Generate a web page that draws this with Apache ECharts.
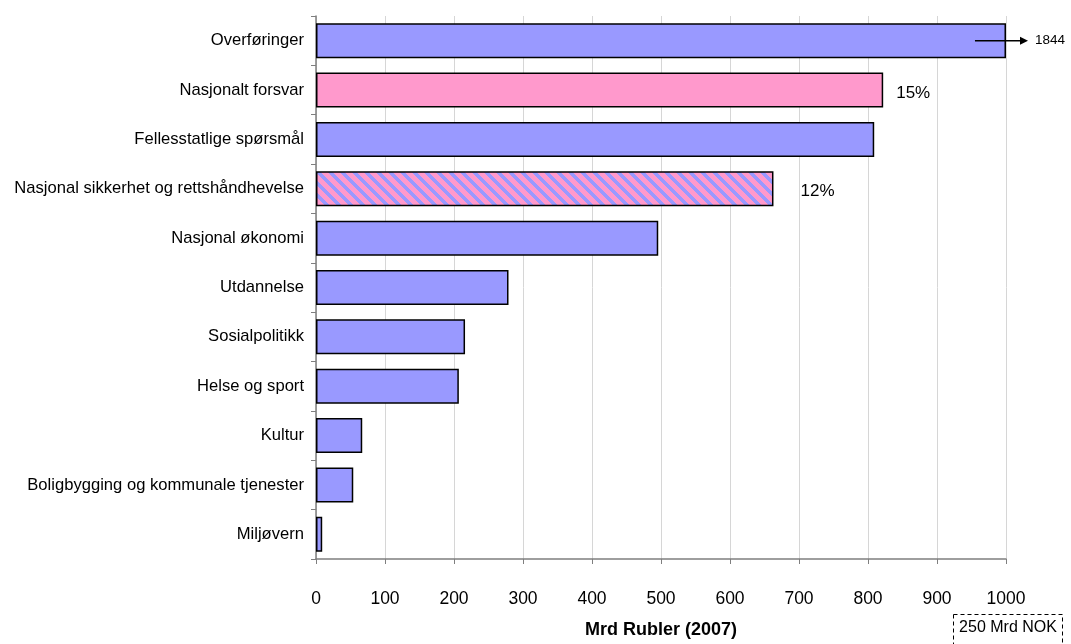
<!DOCTYPE html>
<html>
<head>
<meta charset="utf-8">
<script src="https://cdn.jsdelivr.net/npm/echarts@6/dist/echarts.min.js"></script>
<style>
  html, body { margin: 0; padding: 0; background: #ffffff; }
  #chart { width: 1071px; height: 644px; }
</style>
</head>
<body>
<div id="chart"></div>
<script>
// Russian federal budget expenditure by function, billion roubles (2007)
const categories = [
  'Overføringer',
  'Nasjonalt forsvar',
  'Fellesstatlige spørsmål',
  'Nasjonal sikkerhet og rettshåndhevelse',
  'Nasjonal økonomi',
  'Utdannelse',
  'Sosialpolitikk',
  'Helse og sport',
  'Kultur',
  'Boligbygging og kommunale tjenester',
  'Miljøvern'
];
const values = [1844, 822, 809, 663, 496, 279, 216, 207, 67, 54, 9];
// fill style of each bar: plain, highlighted or striped
const fillKinds = ['plain', 'pink', 'plain', 'striped', 'plain', 'plain', 'plain', 'plain', 'plain', 'plain', 'plain'];
// share of total spending noted beside selected bars
const shareLabels = ['', '15%', '', '12%', '', '', '', '', '', '', ''];
const xMin = 0;
const xMax = 1000;
const xStep = 100;
const axisTitle = 'Mrd Rubler (2007)';
const conversionNote = '250 Mrd NOK';

const BLUE = '#9999ff';
const PINK = '#ff99cc';
const FONT = '"Liberation Sans", Arial, sans-serif';

// diagonal pink/blue stripes tile
function stripeTile() {
  const n = 12;
  const c = document.createElement('canvas');
  c.width = n; c.height = n;
  const ctx = c.getContext('2d');
  const img = ctx.createImageData(n, n);
  const pink = [0xff, 0x99, 0xcc], blue = [0x99, 0x99, 0xff];
  for (let y = 0; y < n; y++) {
    for (let x = 0; x < n; x++) {
      const k = (((x - y) % n) + n) % n;
      const col = k < 5 ? blue : pink;
      const i = (y * n + x) * 4;
      img.data[i] = col[0]; img.data[i + 1] = col[1]; img.data[i + 2] = col[2]; img.data[i + 3] = 255;
    }
  }
  ctx.putImageData(img, 0, 0);
  return c;
}
const stripes = stripeTile();

function fillFor(kind) {
  if (kind === 'pink') return PINK;
  if (kind === 'striped') return { image: stripes, repeat: 'repeat' };
  return BLUE;
}

const barData = values.map((v, i) => {
  const item = {
    value: Math.min(v, xMax),
    itemStyle: { color: fillFor(fillKinds[i]) }
  };
  if (shareLabels[i]) {
    item.label = {
      show: true,
      position: 'right',
      distance: fillKinds[i] === 'striped' ? 27 : 13,
      formatter: shareLabels[i],
      fontSize: 17,
      fontFamily: FONT,
      color: '#000',
      offset: [0, 3]
    };
  }
  return item;
});

const chart = echarts.init(document.getElementById('chart'), null, { renderer: 'canvas' });

chart.setOption({
  animation: false,
  backgroundColor: '#ffffff',
  grid: { left: 316, right: 65, top: 16, bottom: 83, containLabel: false },
  xAxis: {
    type: 'value',
    min: xMin,
    max: xMax,
    interval: xStep,
    name: axisTitle,
    nameLocation: 'middle',
    nameGap: 62,
    nameTextStyle: { fontFamily: FONT, fontSize: 18, fontWeight: 'bold', color: '#000', verticalAlign: 'top' },
    axisLine: { show: true, lineStyle: { color: '#7f7f7f', width: 1.5 } },
    axisTick: { show: true, length: 5, lineStyle: { color: '#7f7f7f' } },
    axisLabel: { margin: 31, fontFamily: FONT, fontSize: 17.5, color: '#000', formatter: (v) => String(v) },
    splitLine: { show: true, lineStyle: { color: '#d6d6d6', width: 1 } }
  },
  yAxis: {
    type: 'category',
    data: categories,
    inverse: true,
    axisLine: { show: true, lineStyle: { color: '#7f7f7f', width: 1.5 } },
    axisTick: { show: true, length: 5, lineStyle: { color: '#7f7f7f' } },
    axisLabel: { margin: 12, fontFamily: FONT, fontSize: 16.6, color: '#000' },
    splitLine: { show: false }
  },
  series: [{
    type: 'bar',
    data: barData,
    barWidth: 35,
    itemStyle: { borderColor: '#000', borderWidth: 1.5 },
    label: { show: false }
  }]
});

// break arrow for the bar that runs past the axis end, plus the exchange note
const rowY = chart.convertToPixel({ gridIndex: 0 }, [0, 0])[1];
const arrowStart = chart.convertToPixel({ gridIndex: 0 }, [955, 0])[0];
const axisEnd = chart.convertToPixel({ gridIndex: 0 }, [xMax, 0])[0];
const tipX = axisEnd + 22;

chart.setOption({
  graphic: [
    {
      type: 'line',
      shape: { x1: arrowStart, y1: rowY, x2: tipX - 6, y2: rowY },
      style: { stroke: '#000', lineWidth: 1.5 },
      z: 100
    },
    {
      type: 'polygon',
      shape: { points: [[tipX - 8, rowY - 4], [tipX, rowY], [tipX - 8, rowY + 4]] },
      style: { fill: '#000' },
      z: 100
    },
    {
      type: 'text',
      x: tipX + 7,
      y: rowY,
      style: { text: String(values[0]), fontFamily: FONT, fontSize: 13.5, fill: '#000', textAlign: 'left', textVerticalAlign: 'middle' },
      z: 100
    },
    {
      type: 'rect',
      shape: { x: 953.5, y: 614.5, width: 109, height: 40 },
      style: { fill: 'none', stroke: '#000', lineWidth: 1, lineDash: [4, 3] },
      z: 100
    },
    {
      type: 'text',
      x: 1008,
      y: 628,
      style: { text: conversionNote, fontFamily: FONT, fontSize: 16, fill: '#000', textAlign: 'center', textVerticalAlign: 'middle' },
      z: 100
    }
  ]
});
</script>
</body>
</html>
